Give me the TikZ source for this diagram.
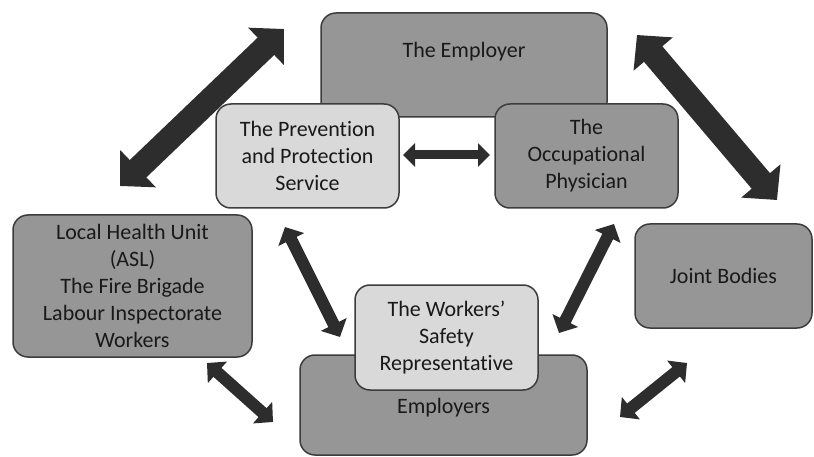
\documentclass[tikz,border=0pt]{standalone}
\usepackage{fontspec}
\setmainfont{Carlito}[Ligatures=NoCommon]
\usetikzlibrary{arrows.meta}
\definecolor{darkbox}{HTML}{969696}
\definecolor{lightbox}{HTML}{D9D9D9}
\definecolor{boxline}{HTML}{3C3C3C}
\definecolor{arrowcol}{HTML}{2D2D2D}
\tikzset{
  box/.style={draw=boxline, line width=1.5pt, rounded corners=15pt, inner sep=0pt, align=center,
    font=\fontsize{22}{27}\selectfont, text=black!90},
  darkb/.style={box, fill=darkbox},
  lightb/.style={box, fill=lightbox},
  lbl/.style={inner sep=0pt, align=center, font=\fontsize{22}{27}\selectfont, text=black!90},
  bigarrow/.style={draw=arrowcol, line width=24pt, {Triangle[width=50pt,length=25pt]}-{Triangle[width=50pt,length=25pt]}, color=arrowcol},
  midarrow/.style={draw=arrowcol, line width=12pt, {Triangle[width=28pt,length=14pt]}-{Triangle[width=28pt,length=14pt]}, color=arrowcol},
  smallarrow/.style={draw=arrowcol, line width=9pt, {Triangle[width=23pt,length=12pt]}-{Triangle[width=23pt,length=12pt]}, color=arrowcol},
}
\begin{document}
\begin{tikzpicture}[x=1pt,y=-1pt]
\useasboundingbox (0,0) rectangle (814,457);
% top group
\node[darkb, minimum width=286pt, minimum height=104pt] (emp) at (464,65) {};
\node[lbl] (empt) at (464,52) {The Employer};
\node[lightb, minimum width=183pt, minimum height=104pt] (pps) at (307.5,156) {The Prevention\\and Protection\\Service};
\node[darkb, minimum width=183pt, minimum height=104pt] (occ) at (586.5,156) {The\\Occupational\\Physician};
% left and right
\node[darkb, minimum width=239pt, minimum height=142pt] (lhu) at (132.5,286) {Local Health Unit\\(ASL)\\The Fire Brigade\\Labour Inspectorate\\Workers};
\node[darkb, minimum width=177pt, minimum height=104pt] (jb) at (723.5,276) {Joint Bodies};
% bottom group
\node[darkb, minimum width=287pt, minimum height=100pt] (emps) at (443.5,405) {};
\node[lbl] (empst) at (443.5,408) {Employers};
\node[lightb, minimum width=183pt, minimum height=105pt] (wsr) at (446.5,337.5) {The Workers’\\Safety\\Representative};
% arrow end points
\coordinate (a1s) at (120,186); \coordinate (a1e) at (284,29);
\coordinate (a2s) at (637,35);  \coordinate (a2e) at (777,200);
\coordinate (a3s) at (403,155); \coordinate (a3e) at (490,155);
\coordinate (a4s) at (285,227); \coordinate (a4e) at (340,337);
\coordinate (a5s) at (614,224); \coordinate (a5e) at (559,333);
\coordinate (a6s) at (207,363); \coordinate (a6e) at (273,422);
\coordinate (a7s) at (620,417); \coordinate (a7e) at (687,363);
\draw[bigarrow] (a1s) -- (a1e);
\draw[bigarrow] (a2s) -- (a2e);
\draw[smallarrow] (a3s) -- (a3e);
\draw[midarrow] (a4s) -- (a4e);
\draw[midarrow] (a5s) -- (a5e);
\draw[midarrow] (a6s) -- (a6e);
\draw[midarrow] (a7s) -- (a7e);
\end{tikzpicture}
\end{document}
